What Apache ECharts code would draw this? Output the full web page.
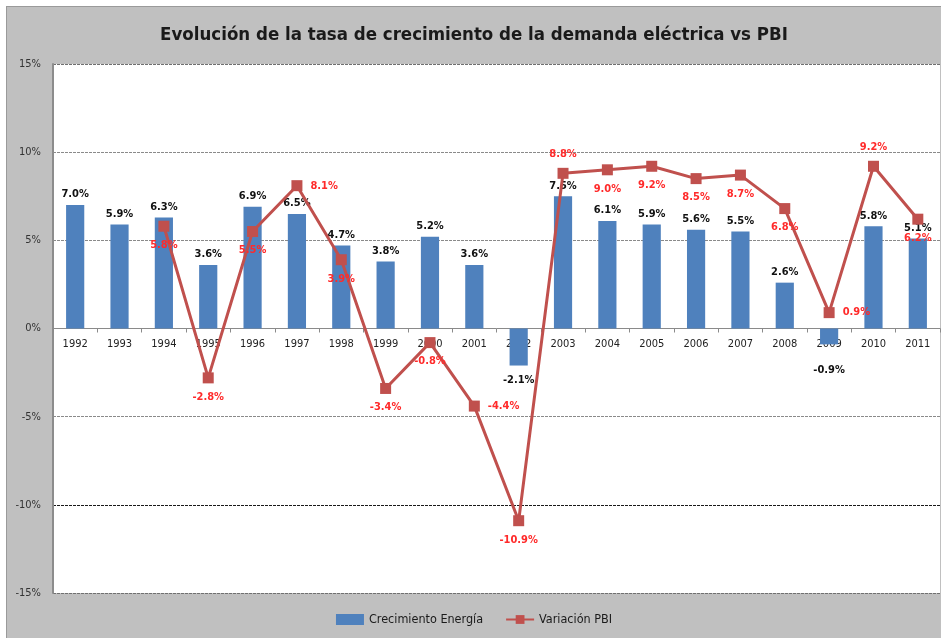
<!DOCTYPE html>
<html>
<head>
<meta charset="utf-8">
<script src="https://cdn.jsdelivr.net/npm/echarts@6/dist/echarts.min.js"></script>
<style>
  html, body { margin: 0; padding: 0; background: #fff; }
  #chart {
    position: absolute; left: 6px; top: 6px;
    width: 934px; height: 631px;
    border-left: 1px solid #9a9a9a; border-top: 1px solid #9a9a9a;
    background: #c0c0c0;
  }
</style>
</head>
<body>
<div id="chart"></div>
<script>
// datos
const years = ['1992', '1993', '1994', '1995', '1996', '1997', '1998', '1999', '2000', '2001',
  '2002', '2003', '2004', '2005', '2006', '2007', '2008', '2009', '2010', '2011']
const energia = [7.0, 5.9, 6.3, 3.6, 6.9, 6.5, 4.7, 3.8, 5.2, 3.6,
  -2.1, 7.5, 6.1, 5.9, 5.6, 5.5, 2.6, -0.9, 5.8, 5.1]
const pbi = [null, null, 5.8, -2.8, 5.5, 8.1, 3.9, -3.4, -0.8, -4.4,
  -10.9, 8.8, 9.0, 9.2, 8.5, 8.7, 6.8, 0.9, 9.2, 6.2]
const yTicks = [-15, -10, -5, 0, 5, 10, 15]

const chart = echarts.init(document.getElementById('chart'))
const font = '"DejaVu Sans Condensed", "Liberation Sans Narrow", sans-serif'

// grid geometry (px), the category axis sits on the 0% line
const gridTop = 57
const gridBottom = 45
const plotH = 631 - gridTop - gridBottom
const zeroOffset = -plotH / 2

// where each PBI label sits, like the Excel original
const pbiLabelPos = {
  '1997': 'right', '2001': 'right', '2003': 'top', '2009': 'right', '2010': 'top'
}

chart.setOption({
  animation: false,
  textStyle: { fontFamily: font },
  title: {
    text: 'Evolución de la tasa de crecimiento de la demanda eléctrica vs PBI',
    left: 'center', top: 14,
    textStyle: { fontSize: 18.5, fontWeight: 'bold', color: '#1a1a1a', fontFamily: font }
  },
  legend: {
    bottom: 7, left: 'center',
    itemWidth: 28, itemHeight: 11, itemGap: 22,
    textStyle: { fontSize: 12.5, color: '#1a1a1a', fontFamily: font },
    data: [
      { name: 'Crecimiento Energía', icon: 'rect' },
      { name: 'Variación PBI' }
    ]
  },
  grid: {
    left: 46, right: 1, top: gridTop, bottom: gridBottom,
    show: true, backgroundColor: '#fff', borderColor: '#606060', borderWidth: 0
  },
  xAxis: {
    type: 'category',
    data: years,
    position: 'bottom',
    offset: zeroOffset,
    axisLine: { onZero: false, lineStyle: { color: '#8a8a8a', width: 1 } },
    axisTick: { show: true, length: 4, lineStyle: { color: '#8a8a8a' } },
    axisLabel: { color: '#222', fontSize: 11, margin: 10, fontFamily: font }
  },
  yAxis: {
    type: 'value',
    min: -15, max: 15, interval: 5,
    axisLine: { show: true, lineStyle: { color: '#8c8c8c', width: 2 } },
    axisTick: { show: false },
    axisLabel: {
      color: '#333', fontSize: 11, margin: 12, fontFamily: font,
      formatter: v => yTicks.includes(v) ? v + '%' : ''
    },
    splitLine: {
      lineStyle: {
        type: [3, 1],
        width: 1,
        color: ['#707070', '#1a1a1a', '#8a8a8a', '#8a8a8a', '#8a8a8a', '#8a8a8a', '#707070']
      }
    }
  },
  series: [
    {
      name: 'Crecimiento Energía',
      type: 'bar',
      barWidth: '41%',
      itemStyle: { color: '#4f81bd' },
      data: energia.map(v => ({
        value: v,
        label: {
          position: v < 0 ? 'bottom' : 'top',
          distance: v < 0 ? (v > -1.5 ? 20 : 9) : 5
        }
      })),
      label: {
        show: true,
        fontSize: 11, fontWeight: 'bold', color: '#111', fontFamily: font,
        formatter: p => p.value.toFixed(1) + '%'
      },
      z: 2
    },
    {
      name: 'Variación PBI',
      type: 'line',
      symbol: 'rect',
      symbolSize: 11,
      lineStyle: { color: '#c0504d', width: 3 },
      itemStyle: { color: '#c0504d' },
      data: pbi.map((v, i) => ({
        value: v,
        label: { position: pbiLabelPos[years[i]] || 'bottom' }
      })),
      label: {
        show: true,
        distance: 8,
        fontSize: 11, fontWeight: 'bold', color: '#ff2a2a', fontFamily: font,
        formatter: p => p.value == null ? '' : p.value.toFixed(1) + '%'
      },
      z: 3
    }
  ]
})
</script>
</body>
</html>
